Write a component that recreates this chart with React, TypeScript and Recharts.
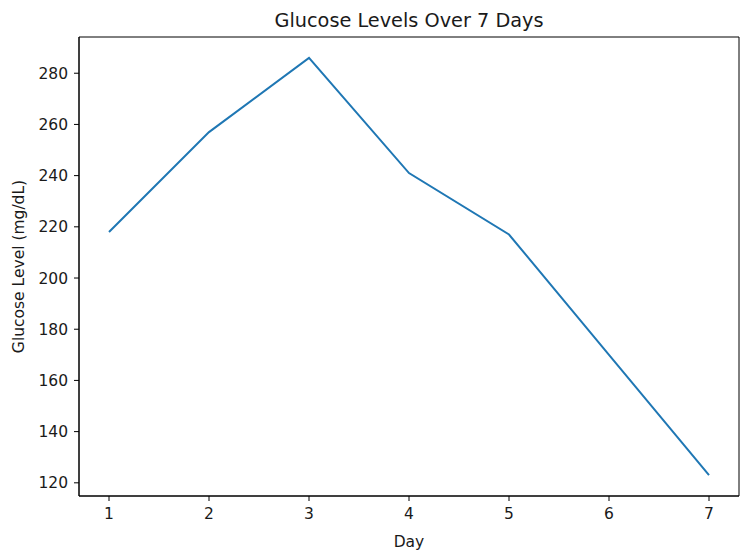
import React from "react";
import { LineChart, Line, XAxis, YAxis, ReferenceArea } from "recharts";

const days = [1, 2, 3, 4, 5, 6, 7];
const glucose = [218, 257, 286, 241, 217, 170, 123];
const yTicks = [120, 140, 160, 180, 200, 220, 240, 260, 280];

const data = days.map((d, i) => ({ day: d, glucose: glucose[i] }));

const FONT = "'DejaVu Sans', sans-serif";
const TEXT = "#1a1a1a";

const yMin = Math.min(...glucose);
const yMax = Math.max(...glucose);
const yPad = (yMax - yMin) * 0.05;
const xPad = (days[days.length - 1] - days[0]) * 0.05;
const xDomain = [days[0] - xPad, days[days.length - 1] + xPad];
const yDomain = [yMin - yPad, yMax + yPad];

export default function App() {
  return (
    <div style={{ position: "absolute", left: 0, top: 0, width: 750, height: 560, background: "#fff" }}>
      <LineChart
        width={750}
        height={560}
        data={data}
        margin={{ top: 37, right: 11, bottom: 0, left: 0 }}
      >
        <text
          x={409}
          y={27}
          textAnchor="middle"
          style={{ fontFamily: FONT, fontSize: 19.3, fill: TEXT }}
        >
          Glucose Levels Over 7 Days
        </text>
        <XAxis
          dataKey="day"
          type="number"
          domain={xDomain}
          ticks={days}
          height={64}
          tickSize={5}
          tickMargin={7}
          axisLine={{ stroke: "#000", strokeWidth: 1 }}
          tickLine={{ stroke: "#000", strokeWidth: 1 }}
          tick={{ fontFamily: FONT, fontSize: 15.5, fill: TEXT }}
          label={{
            value: "Day",
            position: "insideBottom",
            offset: 13,
            style: { fontFamily: FONT, fontSize: 15.5, fill: TEXT },
          }}
        />
        <YAxis
          type="number"
          domain={yDomain}
          ticks={yTicks}
          width={79}
          tickSize={5}
          tickMargin={6}
          axisLine={{ stroke: "#000", strokeWidth: 1 }}
          tickLine={{ stroke: "#000", strokeWidth: 1 }}
          tick={{ fontFamily: FONT, fontSize: 15.5, fill: TEXT }}
          label={{
            value: "Glucose Level (mg/dL)",
            angle: -90,
            position: "insideLeft",
            offset: 18,
            style: { fontFamily: FONT, fontSize: 15.5, fill: TEXT, textAnchor: "middle" },
          }}
        />
        <ReferenceArea
          x1={xDomain[0]}
          x2={xDomain[1]}
          y1={yDomain[0]}
          y2={yDomain[1]}
          fill="none"
          fillOpacity={0}
          stroke="#000"
          strokeWidth={1}
          ifOverflow="visible"
        />
        <Line
          type="linear"
          dataKey="glucose"
          stroke="#1f77b4"
          strokeWidth={2}
          dot={false}
          isAnimationActive={false}
        />
      </LineChart>
    </div>
  );
}
